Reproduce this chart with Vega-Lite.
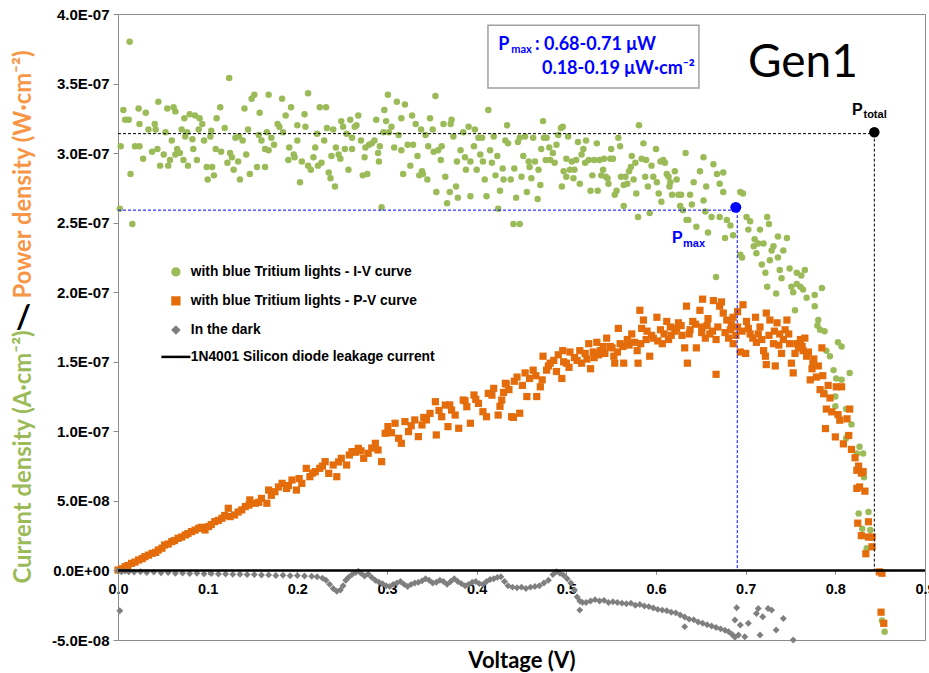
{
"$schema": "https://vega.github.io/schema/vega-lite/v6.json",
"width": 807, "height": 626,
"autosize": {"type": "none"},
"padding": {"left": 118, "top": 14, "right": 4, "bottom": 33},
"background": "white",
"config": {"view": {"stroke": "#8C8C8C", "strokeWidth": 1}, "axis": {"grid": false}},
"datasets": {
"iv": [
{"v":0.013,"j":3.80e-7},{"v":0.002,"j":2.60e-7},{"v":0.016,"j":2.49e-7},{"v":0.006,"j":3.31e-7},{"v":0.008,"j":3.24e-7},{"v":0.012,"j":3.24e-7},{"v":0.003,"j":3.05e-7},{"v":0.014,"j":2.85e-7},{"v":0.019,"j":3.05e-7},{"v":0.024,"j":3.05e-7},{"v":0.023,"j":3.32e-7},{"v":0.024,"j":3.21e-7},{"v":0.031,"j":3.29e-7},{"v":0.028,"j":2.96e-7},{"v":0.034,"j":3.17e-7},{"v":0.038,"j":3.01e-7},{"v":0.041,"j":3.21e-7},{"v":0.042,"j":3.17e-7},{"v":0.045,"j":3.37e-7},{"v":0.044,"j":3.03e-7},{"v":0.047,"j":2.91e-7},{"v":0.051,"j":2.99e-7},{"v":0.053,"j":3.15e-7},{"v":0.055,"j":3.32e-7},{"v":0.056,"j":2.91e-7},{"v":0.058,"j":2.95e-7},{"v":0.060,"j":3.09e-7},{"v":0.062,"j":3.33e-7},{"v":0.064,"j":3.30e-7},{"v":0.066,"j":3.03e-7},{"v":0.064,"j":2.99e-7},{"v":0.069,"j":3.00e-7},{"v":0.071,"j":3.17e-7},{"v":0.073,"j":2.95e-7},{"v":0.074,"j":3.25e-7},{"v":0.077,"j":3.15e-7},{"v":0.075,"j":3.12e-7},{"v":0.078,"j":2.91e-7},{"v":0.080,"j":3.28e-7},{"v":0.083,"j":3.10e-7},{"v":0.084,"j":3.03e-7},{"v":0.088,"j":2.95e-7},{"v":0.090,"j":3.17e-7},{"v":0.086,"j":3.27e-7},{"v":0.091,"j":3.25e-7},{"v":0.094,"j":3.21e-7},{"v":0.096,"j":3.09e-7},{"v":0.099,"j":2.90e-7},{"v":0.100,"j":2.81e-7},{"v":0.103,"j":3.12e-7},{"v":0.104,"j":3.16e-7},{"v":0.105,"j":2.90e-7},{"v":0.107,"j":2.84e-7},{"v":0.110,"j":3.25e-7},{"v":0.109,"j":3.03e-7},{"v":0.114,"j":3.33e-7},{"v":0.115,"j":3.01e-7},{"v":0.119,"j":3.18e-7},{"v":0.122,"j":2.93e-7},{"v":0.124,"j":3.54e-7},{"v":0.125,"j":3.00e-7},{"v":0.127,"j":2.97e-7},{"v":0.129,"j":2.88e-7},{"v":0.131,"j":3.11e-7},{"v":0.134,"j":2.94e-7},{"v":0.135,"j":3.12e-7},{"v":0.136,"j":2.81e-7},{"v":0.139,"j":3.09e-7},{"v":0.141,"j":3.32e-7},{"v":0.143,"j":2.99e-7},{"v":0.145,"j":3.17e-7},{"v":0.147,"j":2.85e-7},{"v":0.149,"j":3.39e-7},{"v":0.152,"j":3.42e-7},{"v":0.155,"j":2.90e-7},{"v":0.157,"j":3.13e-7},{"v":0.158,"j":3.29e-7},{"v":0.160,"j":3.09e-7},{"v":0.164,"j":2.90e-7},{"v":0.166,"j":3.15e-7},{"v":0.164,"j":3.03e-7},{"v":0.168,"j":3.42e-7},{"v":0.168,"j":3.02e-7},{"v":0.171,"j":3.11e-7},{"v":0.174,"j":3.06e-7},{"v":0.178,"j":3.21e-7},{"v":0.180,"j":3.19e-7},{"v":0.183,"j":3.39e-7},{"v":0.184,"j":3.15e-7},{"v":0.187,"j":3.27e-7},{"v":0.190,"j":2.95e-7},{"v":0.191,"j":3.04e-7},{"v":0.193,"j":3.33e-7},{"v":0.196,"j":2.99e-7},{"v":0.197,"j":2.97e-7},{"v":0.200,"j":3.20e-7},{"v":0.200,"j":3.09e-7},{"v":0.203,"j":2.79e-7},{"v":0.205,"j":2.94e-7},{"v":0.208,"j":3.28e-7},{"v":0.209,"j":3.19e-7},{"v":0.212,"j":3.43e-7},{"v":0.212,"j":2.91e-7},{"v":0.215,"j":2.88e-7},{"v":0.218,"j":2.97e-7},{"v":0.220,"j":3.04e-7},{"v":0.222,"j":3.14e-7},{"v":0.223,"j":2.91e-7},{"v":0.225,"j":3.33e-7},{"v":0.227,"j":2.93e-7},{"v":0.232,"j":3.33e-7},{"v":0.230,"j":3.09e-7},{"v":0.233,"j":3.18e-7},{"v":0.235,"j":2.86e-7},{"v":0.237,"j":2.82e-7},{"v":0.238,"j":2.98e-7},{"v":0.240,"j":3.17e-7},{"v":0.242,"j":2.76e-7},{"v":0.243,"j":3.04e-7},{"v":0.246,"j":2.99e-7},{"v":0.248,"j":2.96e-7},{"v":0.249,"j":3.23e-7},{"v":0.251,"j":3.19e-7},{"v":0.253,"j":3.03e-7},{"v":0.255,"j":3.14e-7},{"v":0.257,"j":2.88e-7},{"v":0.259,"j":3.24e-7},{"v":0.261,"j":3.11e-7},{"v":0.261,"j":3.03e-7},{"v":0.264,"j":3.19e-7},{"v":0.266,"j":3.20e-7},{"v":0.268,"j":3.27e-7},{"v":0.271,"j":3.09e-7},{"v":0.273,"j":2.84e-7},{"v":0.275,"j":2.97e-7},{"v":0.276,"j":3.04e-7},{"v":0.278,"j":2.85e-7},{"v":0.280,"j":3.06e-7},{"v":0.283,"j":3.07e-7},{"v":0.286,"j":3.09e-7},{"v":0.288,"j":3.24e-7},{"v":0.290,"j":3.00e-7},{"v":0.291,"j":2.94e-7},{"v":0.292,"j":3.05e-7},{"v":0.294,"j":2.61e-7},{"v":0.296,"j":3.15e-7},{"v":0.297,"j":3.31e-7},{"v":0.299,"j":3.23e-7},{"v":0.301,"j":3.42e-7},{"v":0.302,"j":3.15e-7},{"v":0.305,"j":3.19e-7},{"v":0.308,"j":3.04e-7},{"v":0.311,"j":3.37e-7},{"v":0.313,"j":3.13e-7},{"v":0.316,"j":3.02e-7},{"v":0.316,"j":3.25e-7},{"v":0.318,"j":2.85e-7},{"v":0.320,"j":3.35e-7},{"v":0.323,"j":3.06e-7},{"v":0.326,"j":2.91e-7},{"v":0.328,"j":3.27e-7},{"v":0.329,"j":3.06e-7},{"v":0.332,"j":3.21e-7},{"v":0.334,"j":2.98e-7},{"v":0.336,"j":2.84e-7},{"v":0.338,"j":3.17e-7},{"v":0.339,"j":2.87e-7},
{"v":0.343,"j":3.13e-7},{"v":0.340,"j":2.85e-7},{"v":0.345,"j":2.81e-7},{"v":0.348,"j":3.25e-7},{"v":0.351,"j":3.17e-7},{"v":0.346,"j":3.05e-7},{"v":0.354,"j":3.41e-7},{"v":0.352,"j":3.01e-7},{"v":0.355,"j":2.72e-7},{"v":0.357,"j":3.02e-7},{"v":0.360,"j":2.95e-7},{"v":0.361,"j":3.05e-7},{"v":0.363,"j":3.21e-7},{"v":0.365,"j":2.83e-7},{"v":0.367,"j":2.64e-7},{"v":0.370,"j":2.72e-7},{"v":0.371,"j":3.21e-7},{"v":0.372,"j":3.24e-7},{"v":0.374,"j":3.12e-7},{"v":0.377,"j":2.76e-7},{"v":0.378,"j":2.94e-7},{"v":0.379,"j":2.68e-7},{"v":0.382,"j":3.02e-7},{"v":0.385,"j":3.15e-7},{"v":0.387,"j":2.97e-7},{"v":0.388,"j":2.88e-7},{"v":0.391,"j":3.19e-7},{"v":0.393,"j":2.69e-7},{"v":0.393,"j":2.94e-7},{"v":0.397,"j":3.05e-7},{"v":0.398,"j":3.17e-7},{"v":0.400,"j":2.88e-7},{"v":0.402,"j":3.11e-7},{"v":0.404,"j":2.99e-7},{"v":0.406,"j":3.11e-7},{"v":0.407,"j":2.94e-7},{"v":0.409,"j":2.81e-7},{"v":0.411,"j":2.69e-7},{"v":0.413,"j":3.31e-7},{"v":0.415,"j":3.02e-7},{"v":0.417,"j":2.93e-7},{"v":0.419,"j":3.12e-7},{"v":0.421,"j":2.84e-7},{"v":0.423,"j":2.98e-7},{"v":0.424,"j":2.60e-7},{"v":0.426,"j":2.73e-7},{"v":0.429,"j":2.89e-7},{"v":0.430,"j":2.81e-7},{"v":0.432,"j":3.09e-7},{"v":0.434,"j":3.20e-7},{"v":0.435,"j":3.07e-7},{"v":0.438,"j":2.81e-7},{"v":0.441,"j":2.49e-7},{"v":0.442,"j":2.89e-7},{"v":0.444,"j":2.68e-7},{"v":0.446,"j":3.08e-7},{"v":0.448,"j":2.49e-7},{"v":0.448,"j":3.11e-7},{"v":0.450,"j":2.83e-7},{"v":0.452,"j":2.98e-7},{"v":0.454,"j":3.12e-7},{"v":0.456,"j":2.72e-7},{"v":0.458,"j":2.94e-7},{"v":0.459,"j":2.90e-7},{"v":0.461,"j":2.82e-7},{"v":0.463,"j":3.11e-7},{"v":0.465,"j":2.94e-7},{"v":0.468,"j":2.67e-7},{"v":0.469,"j":2.88e-7},{"v":0.471,"j":2.77e-7},{"v":0.472,"j":3.03e-7},{"v":0.474,"j":3.23e-7},{"v":0.475,"j":3.11e-7},{"v":0.477,"j":2.95e-7},{"v":0.478,"j":3.11e-7},{"v":0.481,"j":3.04e-7},{"v":0.482,"j":2.95e-7},{"v":0.485,"j":3.00e-7},{"v":0.487,"j":2.93e-7},{"v":0.489,"j":3.06e-7},{"v":0.491,"j":3.13e-7},{"v":0.494,"j":3.18e-7},{"v":0.496,"j":3.19e-7},{"v":0.495,"j":2.76e-7},{"v":0.497,"j":2.87e-7},{"v":0.500,"j":2.83e-7},{"v":0.500,"j":2.96e-7},{"v":0.502,"j":3.12e-7},{"v":0.504,"j":2.88e-7},{"v":0.506,"j":2.94e-7},{"v":0.508,"j":2.82e-7},{"v":0.509,"j":2.88e-7},{"v":0.511,"j":2.95e-7},{"v":0.513,"j":3.08e-7},{"v":0.515,"j":2.78e-7},{"v":0.517,"j":2.99e-7},{"v":0.519,"j":3.03e-7},{"v":0.521,"j":2.93e-7},{"v":0.522,"j":3.09e-7},{"v":0.525,"j":2.95e-7},{"v":0.527,"j":2.73e-7},{"v":0.529,"j":2.84e-7},{"v":0.531,"j":2.95e-7},{"v":0.534,"j":3.07e-7},{"v":0.535,"j":2.73e-7},{"v":0.537,"j":2.95e-7},{"v":0.539,"j":2.84e-7},{"v":0.541,"j":2.88e-7},{"v":0.542,"j":2.96e-7},{"v":0.544,"j":2.83e-7},{"v":0.546,"j":2.82e-7},{"v":0.547,"j":2.78e-7},{"v":0.549,"j":2.96e-7},{"v":0.550,"j":3.03e-7},{"v":0.552,"j":2.96e-7},{"v":0.554,"j":2.70e-7},{"v":0.556,"j":2.73e-7},{"v":0.558,"j":3.11e-7},{"v":0.560,"j":3.05e-7},{"v":0.561,"j":2.83e-7},{"v":0.564,"j":2.77e-7},{"v":0.564,"j":2.62e-7},{"v":0.566,"j":2.83e-7},{"v":0.568,"j":2.78e-7},{"v":0.570,"j":2.87e-7},{"v":0.572,"j":2.90e-7},{"v":0.573,"j":2.98e-7},{"v":0.575,"j":2.81e-7},{"v":0.577,"j":2.93e-7},{"v":0.578,"j":2.71e-7},{"v":0.580,"j":2.54e-7},{"v":0.581,"j":3.20e-7},{"v":0.584,"j":2.96e-7},{"v":0.586,"j":3.07e-7},{"v":0.588,"j":2.83e-7},{"v":0.589,"j":2.95e-7},{"v":0.591,"j":2.76e-7},{"v":0.593,"j":2.57e-7},{"v":0.595,"j":2.91e-7},{"v":0.597,"j":2.83e-7},{"v":0.600,"j":3.03e-7},{"v":0.601,"j":2.79e-7},{"v":0.603,"j":2.71e-7},{"v":0.605,"j":2.94e-7},{"v":0.606,"j":2.65e-7},{"v":0.608,"j":2.95e-7},{"v":0.610,"j":2.93e-7},{"v":0.612,"j":2.85e-7},{"v":0.614,"j":2.83e-7},{"v":0.615,"j":2.76e-7},{"v":0.616,"j":2.79e-7},{"v":0.618,"j":2.70e-7},{"v":0.621,"j":2.87e-7},{"v":0.623,"j":2.81e-7},{"v":0.625,"j":2.70e-7},{"v":0.627,"j":2.62e-7},{"v":0.628,"j":2.70e-7},{"v":0.630,"j":2.59e-7},{"v":0.633,"j":3.00e-7},{"v":0.634,"j":2.52e-7},{"v":0.636,"j":2.52e-7},{"v":0.638,"j":2.70e-7},
{"v":0.653,"j":2.97e-7},{"v":0.664,"j":2.92e-7},{"v":0.649,"j":2.87e-7},{"v":0.668,"j":2.85e-7},{"v":0.675,"j":2.86e-7},{"v":0.671,"j":2.78e-7},{"v":0.656,"j":2.76e-7},{"v":0.642,"j":2.79e-7},{"v":0.675,"j":2.72e-7},{"v":0.694,"j":2.72e-7},{"v":0.697,"j":2.71e-7},{"v":0.653,"j":2.66e-7},{"v":0.655,"j":2.58e-7},{"v":0.640,"j":2.63e-7},{"v":0.645,"j":2.47e-7},{"v":0.662,"j":2.54e-7},{"v":0.671,"j":2.54e-7},{"v":0.679,"j":2.52e-7},{"v":0.683,"j":2.48e-7},{"v":0.658,"j":2.43e-7},{"v":0.677,"j":2.39e-7},{"v":0.686,"j":2.41e-7},{"v":0.701,"j":2.54e-7},{"v":0.705,"j":2.51e-7},{"v":0.703,"j":2.45e-7},{"v":0.710,"j":2.38e-7},{"v":0.716,"j":2.45e-7},{"v":0.724,"j":2.54e-7},{"v":0.726,"j":2.49e-7},{"v":0.709,"j":2.33e-7},{"v":0.714,"j":2.35e-7},{"v":0.712,"j":2.28e-7},{"v":0.720,"j":2.35e-7},{"v":0.736,"j":2.40e-7},{"v":0.746,"j":2.39e-7},{"v":0.731,"j":2.33e-7},{"v":0.729,"j":2.30e-7},{"v":0.742,"j":2.30e-7},{"v":0.736,"j":2.25e-7},{"v":0.727,"j":2.23e-7},{"v":0.718,"j":2.20e-7},{"v":0.696,"j":2.25e-7},{"v":0.694,"j":2.27e-7},{"v":0.667,"j":2.11e-7},{"v":0.722,"j":2.14e-7},{"v":0.738,"j":2.16e-7},{"v":0.749,"j":2.17e-7},{"v":0.757,"j":2.14e-7},{"v":0.766,"j":2.16e-7},{"v":0.762,"j":2.12e-7},{"v":0.740,"j":2.10e-7},{"v":0.724,"j":2.04e-7},{"v":0.734,"j":1.99e-7},{"v":0.751,"j":2.04e-7},{"v":0.757,"j":2.06e-7},{"v":0.761,"j":2.04e-7},{"v":0.753,"j":2.00e-7},{"v":0.764,"j":2.02e-7},{"v":0.768,"j":1.96e-7},{"v":0.777,"j":1.98e-7},{"v":0.785,"j":2.03e-7},{"v":0.777,"j":1.90e-7},{"v":0.755,"j":1.87e-7},{"v":0.781,"j":1.80e-7},{"v":0.780,"j":1.76e-7},{"v":0.783,"j":1.73e-7},{"v":0.788,"j":1.72e-7},{"v":0.803,"j":1.64e-7},{"v":0.807,"j":1.61e-7},{"v":0.790,"j":1.58e-7},{"v":0.794,"j":1.54e-7},{"v":0.798,"j":1.44e-7},{"v":0.801,"j":1.38e-7},{"v":0.807,"j":1.37e-7},{"v":0.816,"j":1.42e-7},{"v":0.800,"j":1.25e-7},{"v":0.788,"j":1.28e-7},{"v":0.800,"j":1.18e-7},{"v":0.812,"j":1.16e-7},{"v":0.818,"j":1.05e-7},{"v":0.812,"j":0.95e-7},{"v":0.814,"j":0.97e-7},{"v":0.827,"j":0.89e-7},{"v":0.831,"j":0.84e-7},{"v":0.824,"j":0.84e-7},{"v":0.832,"j":0.67e-7},{"v":0.826,"j":0.41e-7},{"v":0.837,"j":0.42e-7},{"v":0.830,"j":0.30e-7},{"v":0.839,"j":0.29e-7},{"v":0.835,"j":0.16e-7},{"v":0.852,"j":-0.36e-7},{"v":0.855,"j":-0.44e-7}
],
"pv": [
{"v":0.000,"j":0.003e-7},{"v":0.008,"j":0.027e-7},{"v":0.015,"j":0.051e-7},{"v":0.023,"j":0.075e-7},{"v":0.030,"j":0.099e-7},{"v":0.038,"j":0.123e-7},{"v":0.045,"j":0.147e-7},{"v":0.052,"j":0.183e-7},{"v":0.060,"j":0.207e-7},{"v":0.067,"j":0.231e-7},{"v":0.075,"j":0.255e-7},{"v":0.082,"j":0.279e-7},{"v":0.090,"j":0.303e-7},{"v":0.097,"j":0.291e-7},{"v":0.101,"j":0.315e-7},{"v":0.108,"j":0.351e-7},{"v":0.116,"j":0.375e-7},{"v":0.123,"j":0.447e-7},{"v":0.125,"j":0.387e-7},{"v":0.130,"j":0.399e-7},{"v":0.138,"j":0.435e-7},{"v":0.142,"j":0.459e-7},{"v":0.147,"j":0.507e-7},{"v":0.153,"j":0.483e-7},{"v":0.160,"j":0.518e-7},{"v":0.166,"j":0.483e-7},{"v":0.168,"j":0.578e-7},{"v":0.175,"j":0.566e-7},{"v":0.183,"j":0.626e-7},{"v":0.188,"j":0.590e-7},{"v":0.194,"j":0.650e-7},{"v":0.199,"j":0.578e-7},{"v":0.205,"j":0.626e-7},{"v":0.210,"j":0.734e-7},{"v":0.214,"j":0.674e-7},{"v":0.220,"j":0.710e-7},{"v":0.225,"j":0.734e-7},{"v":0.231,"j":0.782e-7},{"v":0.235,"j":0.698e-7},{"v":0.240,"j":0.758e-7},{"v":0.244,"j":0.674e-7},{"v":0.249,"j":0.806e-7},{"v":0.255,"j":0.758e-7},{"v":0.261,"j":0.854e-7},{"v":0.268,"j":0.878e-7},{"v":0.274,"j":0.806e-7},{"v":0.279,"j":0.842e-7},{"v":0.287,"j":0.914e-7},{"v":0.290,"j":0.866e-7},{"v":0.294,"j":0.782e-7},{"v":0.298,"j":0.986e-7},{"v":0.301,"j":1.034e-7},{"v":0.309,"j":1.058e-7},{"v":0.313,"j":0.950e-7},{"v":0.316,"j":0.914e-7},{"v":0.320,"j":1.070e-7},{"v":0.324,"j":0.998e-7},{"v":0.331,"j":1.082e-7},{"v":0.335,"j":0.962e-7},{"v":0.339,"j":1.046e-7},{"v":0.344,"j":1.082e-7},{"v":0.348,"j":1.129e-7},{"v":0.354,"j":1.213e-7},{"v":0.355,"j":0.974e-7},{"v":0.361,"j":1.105e-7},{"v":0.365,"j":1.189e-7},{"v":0.368,"j":1.034e-7},{"v":0.372,"j":1.153e-7},{"v":0.376,"j":1.117e-7},{"v":0.380,"j":1.022e-7},{"v":0.385,"j":1.225e-7},{"v":0.389,"j":1.177e-7},{"v":0.393,"j":1.058e-7},{"v":0.397,"j":1.261e-7},{"v":0.402,"j":1.201e-7},{"v":0.407,"j":1.141e-7},{"v":0.411,"j":1.105e-7},{"v":0.413,"j":1.273e-7},{"v":0.419,"j":1.309e-7},{"v":0.424,"j":1.117e-7},{"v":0.428,"j":1.225e-7},{"v":0.432,"j":1.345e-7},{"v":0.439,"j":1.105e-7},
{"v":0.004,"j":0.012e-7},{"v":0.011,"j":0.035e-7},{"v":0.019,"j":0.06e-7},{"v":0.027,"j":0.085e-7},{"v":0.034,"j":0.11e-7},{"v":0.042,"j":0.13e-7},{"v":0.049,"j":0.16e-7},{"v":0.056,"j":0.19e-7},{"v":0.063,"j":0.215e-7},{"v":0.071,"j":0.24e-7},{"v":0.078,"j":0.265e-7},{"v":0.086,"j":0.29e-7},{"v":0.093,"j":0.31e-7},{"v":0.104,"j":0.33e-7},{"v":0.112,"j":0.36e-7},{"v":0.119,"j":0.395e-7},{"v":0.134,"j":0.42e-7},{"v":0.146,"j":0.47e-7},{"v":0.157,"j":0.49e-7},{"v":0.171,"j":0.54e-7},{"v":0.179,"j":0.60e-7},{"v":0.190,"j":0.61e-7},{"v":0.202,"j":0.66e-7},{"v":0.217,"j":0.70e-7},{"v":0.228,"j":0.75e-7},{"v":0.246,"j":0.78e-7},{"v":0.258,"j":0.83e-7},{"v":0.265,"j":0.85e-7},{"v":0.271,"j":0.86e-7},{"v":0.283,"j":0.88e-7},{"v":0.305,"j":0.99e-7},{"v":0.327,"j":1.04e-7},{"v":0.341,"j":1.10e-7},{"v":0.358,"j":1.15e-7},{"v":0.370,"j":1.19e-7},{"v":0.387,"j":1.22e-7},{"v":0.399,"j":1.23e-7},{"v":0.417,"j":1.26e-7},{"v":0.430,"j":1.28e-7},
{"v":0.436,"j":1.30e-7},{"v":0.442,"j":1.36e-7},{"v":0.451,"j":1.33e-7},{"v":0.459,"j":1.38e-7},{"v":0.466,"j":1.40e-7},{"v":0.473,"j":1.37e-7},{"v":0.480,"j":1.47e-7},{"v":0.489,"j":1.43e-7},{"v":0.497,"j":1.50e-7},{"v":0.503,"j":1.46e-7},{"v":0.509,"j":1.53e-7},{"v":0.517,"j":1.49e-7},{"v":0.523,"j":1.52e-7},{"v":0.531,"j":1.53e-7},{"v":0.536,"j":1.55e-7},{"v":0.543,"j":1.56e-7},{"v":0.551,"j":1.60e-7},{"v":0.557,"j":1.57e-7},{"v":0.563,"j":1.61e-7},{"v":0.570,"j":1.62e-7},{"v":0.576,"j":1.64e-7},{"v":0.583,"j":1.63e-7},{"v":0.589,"j":1.66e-7},{"v":0.595,"j":1.69e-7},{"v":0.602,"j":1.65e-7},{"v":0.609,"j":1.70e-7},{"v":0.614,"j":1.66e-7},{"v":0.623,"j":1.74e-7},{"v":0.628,"j":1.76e-7},{"v":0.637,"j":1.70e-7},{"v":0.644,"j":1.77e-7},{"v":0.651,"j":1.71e-7},{"v":0.657,"j":1.76e-7},{"v":0.663,"j":1.72e-7},{"v":0.669,"j":1.75e-7},{"v":0.677,"j":1.71e-7},{"v":0.684,"j":1.77e-7},{"v":0.689,"j":1.69e-7},{"v":0.696,"j":1.72e-7},{"v":0.703,"j":1.74e-7},{"v":0.708,"j":1.67e-7},{"v":0.714,"j":1.70e-7},{"v":0.718,"j":1.66e-7},{"v":0.726,"j":1.69e-7},{"v":0.732,"j":1.72e-7},{"v":0.737,"j":1.62e-7},{"v":0.742,"j":1.66e-7},{"v":0.748,"j":1.70e-7},{"v":0.757,"j":1.63e-7},{"v":0.763,"j":1.61e-7},{"v":0.770,"j":1.57e-7},{"v":0.776,"j":1.52e-7},{"v":0.781,"j":1.47e-7},{"v":0.786,"j":1.40e-7},{"v":0.792,"j":1.33e-7},
{"v":0.426,"j":1.18e-7},{"v":0.433,"j":1.34e-7},{"v":0.441,"j":1.10e-7},{"v":0.448,"j":1.13e-7},{"v":0.445,"j":1.39e-7},{"v":0.454,"j":1.42e-7},{"v":0.456,"j":1.25e-7},{"v":0.463,"j":1.44e-7},{"v":0.467,"j":1.25e-7},{"v":0.471,"j":1.32e-7},{"v":0.474,"j":1.54e-7},{"v":0.478,"j":1.44e-7},{"v":0.482,"j":1.49e-7},{"v":0.486,"j":1.51e-7},{"v":0.491,"j":1.55e-7},{"v":0.495,"j":1.38e-7},{"v":0.496,"j":1.58e-7},{"v":0.500,"j":1.49e-7},{"v":0.504,"j":1.57e-7},{"v":0.512,"j":1.51e-7},{"v":0.515,"j":1.58e-7},{"v":0.521,"j":1.56e-7},{"v":0.525,"j":1.63e-7},{"v":0.527,"j":1.45e-7},{"v":0.530,"j":1.57e-7},{"v":0.534,"j":1.64e-7},{"v":0.538,"j":1.58e-7},{"v":0.541,"j":1.61e-7},{"v":0.545,"j":1.67e-7},{"v":0.549,"j":1.61e-7},{"v":0.553,"j":1.54e-7},{"v":0.554,"j":1.49e-7},{"v":0.558,"j":1.74e-7},{"v":0.560,"j":1.63e-7},{"v":0.564,"j":1.49e-7},{"v":0.568,"j":1.66e-7},{"v":0.573,"j":1.70e-7},{"v":0.579,"j":1.58e-7},{"v":0.580,"j":1.49e-7},{"v":0.582,"j":1.87e-7},{"v":0.584,"j":1.74e-7},{"v":0.586,"j":1.80e-7},{"v":0.590,"j":1.72e-7},{"v":0.593,"j":1.54e-7},{"v":0.597,"j":1.67e-7},{"v":0.601,"j":1.82e-7},{"v":0.605,"j":1.73e-7},{"v":0.607,"j":1.63e-7},{"v":0.612,"j":1.79e-7},{"v":0.616,"j":1.75e-7},{"v":0.617,"j":1.69e-7},{"v":0.621,"j":1.72e-7},{"v":0.625,"j":1.78e-7},{"v":0.629,"j":1.69e-7},{"v":0.632,"j":1.60e-7},{"v":0.634,"j":1.90e-7},{"v":0.635,"j":1.49e-7},{"v":0.638,"j":1.73e-7},{"v":0.641,"j":1.79e-7},{"v":0.645,"j":1.60e-7},{"v":0.649,"j":1.87e-7},{"v":0.651,"j":1.75e-7},{"v":0.652,"j":1.95e-7},{"v":0.655,"j":1.67e-7},{"v":0.658,"j":1.81e-7},{"v":0.660,"j":1.70e-7},{"v":0.664,"j":1.94e-7},{"v":0.667,"j":1.41e-7},{"v":0.667,"j":1.66e-7},{"v":0.671,"j":1.90e-7},{"v":0.673,"j":1.93e-7},{"v":0.675,"j":1.85e-7},{"v":0.679,"j":1.80e-7},{"v":0.681,"j":1.67e-7},{"v":0.683,"j":1.73e-7},{"v":0.686,"j":1.82e-7},{"v":0.686,"j":1.63e-7},{"v":0.691,"j":1.86e-7},{"v":0.691,"j":1.75e-7},{"v":0.694,"j":1.57e-7},{"v":0.697,"j":1.91e-7},{"v":0.700,"j":1.56e-7},{"v":0.701,"j":1.79e-7},{"v":0.705,"j":1.70e-7},{"v":0.711,"j":1.82e-7},{"v":0.712,"j":1.64e-7},{"v":0.716,"j":1.75e-7},{"v":0.720,"j":1.58e-7},{"v":0.722,"j":1.54e-7},{"v":0.723,"j":1.48e-7},{"v":0.723,"j":1.85e-7},{"v":0.727,"j":1.80e-7},{"v":0.731,"j":1.63e-7},{"v":0.733,"j":1.47e-7},{"v":0.735,"j":1.78e-7},{"v":0.738,"j":1.70e-7},{"v":0.740,"j":1.56e-7},{"v":0.744,"j":1.73e-7},{"v":0.746,"j":1.80e-7},{"v":0.749,"j":1.63e-7},{"v":0.751,"j":1.49e-7},{"v":0.753,"j":1.42e-7},{"v":0.755,"j":1.56e-7},{"v":0.759,"j":1.60e-7},{"v":0.761,"j":1.66e-7},{"v":0.764,"j":1.58e-7},{"v":0.766,"j":1.67e-7},{"v":0.768,"j":1.54e-7},{"v":0.772,"j":1.37e-7},{"v":0.774,"j":1.45e-7},{"v":0.775,"j":1.49e-7},{"v":0.779,"j":1.39e-7},{"v":0.783,"j":1.30e-7},{"v":0.785,"j":1.60e-7},{"v":0.787,"j":1.27e-7},{"v":0.789,"j":1.02e-7},{"v":0.790,"j":1.16e-7},{"v":0.794,"j":1.24e-7},{"v":0.796,"j":1.14e-7},{"v":0.800,"j":0.96e-7},{"v":0.801,"j":1.32e-7},{"v":0.803,"j":1.12e-7},{"v":0.805,"j":1.08e-7},{"v":0.807,"j":1.32e-7},{"v":0.809,"j":0.91e-7},{"v":0.813,"j":1.09e-7},{"v":0.815,"j":0.97e-7},{"v":0.816,"j":1.16e-7},{"v":0.818,"j":0.87e-7},{"v":0.822,"j":0.81e-7},{"v":0.824,"j":0.72e-7},{"v":0.826,"j":0.75e-7},{"v":0.829,"j":0.70e-7},{"v":0.831,"j":0.71e-7},{"v":0.824,"j":0.59e-7},{"v":0.827,"j":0.60e-7},{"v":0.833,"j":0.57e-7},{"v":0.825,"j":0.34e-7},{"v":0.837,"j":0.35e-7},{"v":0.829,"j":0.25e-7},{"v":0.837,"j":0.24e-7},{"v":0.841,"j":0.24e-7},{"v":0.841,"j":0.17e-7},{"v":0.834,"j":0.12e-7},{"v":0.849,"j":-0.01e-7},{"v":0.852,"j":-0.02e-7},{"v":0.851,"j":-0.30e-7},{"v":0.854,"j":-0.38e-7}
],
"dark": [
{"v":0.000,"j":0.00e-7},{"v":0.004,"j":-0.01e-7},{"v":0.008,"j":-0.005e-7},{"v":0.012,"j":-0.01e-7},{"v":0.018,"j":-0.012e-7},{"v":0.025,"j":-0.01e-7},{"v":0.032,"j":-0.015e-7},{"v":0.040,"j":-0.012e-7},{"v":0.048,"j":-0.016e-7},{"v":0.056,"j":-0.015e-7},{"v":0.064,"j":-0.02e-7},{"v":0.072,"j":-0.018e-7},{"v":0.080,"j":-0.022e-7},{"v":0.088,"j":-0.02e-7},{"v":0.096,"j":-0.024e-7},{"v":0.104,"j":-0.022e-7},{"v":0.112,"j":-0.026e-7},{"v":0.120,"j":-0.025e-7},{"v":0.128,"j":-0.028e-7},{"v":0.136,"j":-0.027e-7},{"v":0.144,"j":-0.03e-7},{"v":0.152,"j":-0.03e-7},{"v":0.160,"j":-0.033e-7},{"v":0.168,"j":-0.032e-7},{"v":0.176,"j":-0.036e-7},{"v":0.184,"j":-0.035e-7},{"v":0.192,"j":-0.038e-7},{"v":0.200,"j":-0.037e-7},{"v":0.208,"j":-0.04e-7},{"v":0.216,"j":-0.042e-7},{"v":0.222,"j":-0.045e-7},{"v":0.228,"j":-0.055e-7},{"v":0.232,"j":-0.07e-7},{"v":0.236,"j":-0.10e-7},{"v":0.240,"j":-0.13e-7},{"v":0.244,"j":-0.15e-7},{"v":0.248,"j":-0.14e-7},{"v":0.251,"j":-0.11e-7},{"v":0.254,"j":-0.07e-7},{"v":0.257,"j":-0.05e-7},{"v":0.261,"j":-0.03e-7},{"v":0.265,"j":-0.015e-7},{"v":0.268,"j":-0.005e-7},{"v":0.271,"j":-0.02e-7},{"v":0.275,"j":-0.04e-7},{"v":0.279,"j":-0.025e-7},{"v":0.283,"j":-0.05e-7},{"v":0.287,"j":-0.07e-7},{"v":0.291,"j":-0.085e-7},{"v":0.295,"j":-0.095e-7},{"v":0.299,"j":-0.11e-7},{"v":0.303,"j":-0.115e-7},{"v":0.307,"j":-0.10e-7},{"v":0.311,"j":-0.09e-7},{"v":0.315,"j":-0.08e-7},{"v":0.319,"j":-0.10e-7},{"v":0.323,"j":-0.115e-7},{"v":0.327,"j":-0.10e-7},{"v":0.331,"j":-0.09e-7},{"v":0.335,"j":-0.085e-7},{"v":0.339,"j":-0.075e-7},{"v":0.343,"j":-0.06e-7},{"v":0.347,"j":-0.07e-7},{"v":0.351,"j":-0.09e-7},{"v":0.355,"j":-0.085e-7},{"v":0.359,"j":-0.07e-7},{"v":0.363,"j":-0.08e-7},{"v":0.367,"j":-0.10e-7},{"v":0.371,"j":-0.08e-7},{"v":0.375,"j":-0.06e-7},{"v":0.379,"j":-0.08e-7},{"v":0.383,"j":-0.095e-7},{"v":0.387,"j":-0.11e-7},{"v":0.391,"j":-0.10e-7},{"v":0.395,"j":-0.085e-7},{"v":0.399,"j":-0.08e-7},{"v":0.403,"j":-0.095e-7},{"v":0.407,"j":-0.10e-7},{"v":0.411,"j":-0.08e-7},{"v":0.415,"j":-0.065e-7},{"v":0.419,"j":-0.06e-7},{"v":0.423,"j":-0.05e-7},{"v":0.427,"j":-0.045e-7},{"v":0.431,"j":-0.08e-7},{"v":0.435,"j":-0.11e-7},{"v":0.440,"j":-0.12e-7},{"v":0.445,"j":-0.125e-7},{"v":0.450,"j":-0.12e-7},{"v":0.455,"j":-0.13e-7},{"v":0.460,"j":-0.12e-7},{"v":0.465,"j":-0.115e-7},{"v":0.470,"j":-0.11e-7},{"v":0.475,"j":-0.09e-7},{"v":0.480,"j":-0.07e-7},{"v":0.485,"j":-0.03e-7},{"v":0.489,"j":-0.01e-7},{"v":0.493,"j":-0.02e-7},{"v":0.497,"j":-0.035e-7},{"v":0.501,"j":-0.06e-7},{"v":0.505,"j":-0.09e-7},{"v":0.509,"j":-0.14e-7},{"v":0.512,"j":-0.19e-7},{"v":0.515,"j":-0.22e-7},{"v":0.518,"j":-0.23e-7},{"v":0.522,"j":-0.23e-7},{"v":0.527,"j":-0.22e-7},{"v":0.532,"j":-0.21e-7},{"v":0.537,"j":-0.22e-7},{"v":0.542,"j":-0.215e-7},{"v":0.547,"j":-0.23e-7},{"v":0.552,"j":-0.225e-7},{"v":0.557,"j":-0.23e-7},{"v":0.562,"j":-0.235e-7},{"v":0.567,"j":-0.24e-7},{"v":0.572,"j":-0.235e-7},{"v":0.577,"j":-0.25e-7},{"v":0.582,"j":-0.245e-7},{"v":0.587,"j":-0.255e-7},{"v":0.592,"j":-0.26e-7},{"v":0.597,"j":-0.27e-7},{"v":0.602,"j":-0.28e-7},{"v":0.607,"j":-0.285e-7},{"v":0.612,"j":-0.29e-7},{"v":0.617,"j":-0.30e-7},{"v":0.622,"j":-0.305e-7},{"v":0.627,"j":-0.32e-7},{"v":0.632,"j":-0.335e-7},{"v":0.637,"j":-0.35e-7},{"v":0.642,"j":-0.355e-7},{"v":0.647,"j":-0.37e-7},{"v":0.652,"j":-0.38e-7},{"v":0.657,"j":-0.39e-7},{"v":0.662,"j":-0.40e-7},{"v":0.667,"j":-0.41e-7},{"v":0.672,"j":-0.42e-7},{"v":0.677,"j":-0.43e-7},{"v":0.681,"j":-0.44e-7},{"v":0.685,"j":-0.46e-7},{"v":0.688,"j":-0.48e-7},{"v":0.515,"j":-0.285e-7},{"v":0.632,"j":-0.404e-7},{"v":0.002,"j":-0.29e-7},{"v":0.690,"j":-0.268e-7},{"v":0.688,"j":-0.356e-7},{"v":0.692,"j":-0.464e-7},{"v":0.694,"j":-0.392e-7},{"v":0.699,"j":-0.476e-7},{"v":0.703,"j":-0.380e-7},{"v":0.714,"j":-0.273e-7},{"v":0.712,"j":-0.309e-7},{"v":0.719,"j":-0.333e-7},{"v":0.716,"j":-0.464e-7},{"v":0.725,"j":-0.273e-7},{"v":0.729,"j":-0.285e-7},{"v":0.734,"j":-0.428e-7},{"v":0.742,"j":-0.345e-7},{"v":0.753,"j":-0.500e-7}
],
"leak": [{"v":0,"j":0},{"v":0.9,"j":0}],
"dashK": [{"x1":0,"x2":0.8435,"y1":3.14e-7,"y2":3.14e-7},{"x1":0.8435,"x2":0.8435,"y1":3.14e-7,"y2":0}],
"dashB": [{"x1":0,"x2":0.6906,"y1":2.59e-7,"y2":2.59e-7},{"x1":0.6906,"x2":0.6906,"y1":2.59e-7,"y2":0}],
"dotB": [{"v":0.689,"j":2.61e-7}],
"dotK": [{"v":0.8435,"j":3.15e-7}],
"box": [{"x1":0.4126,"x2":0.6479,"y1":3.92e-7,"y2":3.468e-7}],
"gen": [{"v":0.7026,"j":3.547e-7,"t":"Gen1"}],
"boxBig": [{"v":0.424,"j":3.741e-7,"t":"P"},{"v":0.4650,"j":3.741e-7,"t":": 0.68-0.71  μW"},{"v":0.4728,"j":3.568e-7,"t":"0.18-0.19 μW·cm⁻²"}],
"boxSmall": [{"v":0.4385,"j":3.719e-7,"t":"max"}],
"blueBig": [{"v":0.6178,"j":2.351e-7,"t":"P"}],
"blueSmall": [{"v":0.6301,"j":2.327e-7,"t":"max"}],
"blackBig": [{"v":0.8186,"j":3.273e-7,"t":"P"}],
"blackSmall": [{"v":0.8314,"j":3.254e-7,"t":"total"}]
},
"resolve": {"axis": {"x": "independent", "y": "independent"}},
"layer": [
{"data": {"name": "iv"}, "mark": {"type": "point", "filled": true, "opacity": 1, "size": 42},
 "encoding": {
  "x": {"field": "v", "type": "quantitative", "scale": {"domain": [0, 0.9], "nice": false, "zero": false},
   "axis": {"orient": "bottom", "values": [0,0.1,0.2,0.3,0.4,0.5,0.6,0.7,0.8,0.9], "format": ".1f", "labelFlush": false, "labelOverlap": false, "domain": false, "ticks": true, "tickSize": 4, "tickColor": "#8C8C8C", "labelPadding": 8, "offset": -69.6, "labelFont": "Liberation Sans", "labelFontWeight": "bold", "labelFontSize": 14.5, "labelColor": "#000000", "title": "Voltage (V)", "titleFont": "Lato", "titleFontSize": 22, "titleFontWeight": "bold", "titleColor": "#000000", "titleY": 90, "titleBaseline": "middle"}},
  "y": {"field": "j", "type": "quantitative", "scale": {"domain": [-5e-8, 4e-7], "nice": false, "zero": false},
   "axis": {"orient": "left", "values": [-5e-8,0,5e-8,1e-7,1.5e-7,2e-7,2.5e-7,3e-7,3.5e-7,4e-7],
    "labelExpr": "datum.value == 0 ? '0.0E+00' : (datum.value < 0 ? '-' : '') + format(abs(datum.value) / pow(10, floor(log(abs(datum.value)) / LN10 + 1e-9)), '.1f') + 'E-0' + (-floor(log(abs(datum.value)) / LN10 + 1e-9))",
    "labelFont": "Liberation Sans", "labelFontWeight": "bold", "labelFontSize": 15, "labelColor": "#000000", "labelPadding": 4,
    "tickSize": 5, "tickColor": "#8C8C8C", "domainColor": "#8C8C8C",
    "title": "Current density (A·cm⁻²)", "titleColor": "#9BBB59", "titleFont": "Lato", "titleFontSize": 23.8, "titleFontWeight": "bold", "titleAngle": 270, "titleX": -95, "titleY": 569, "titleAlign": "left", "titleBaseline": "middle"}},
  "color": {"datum": "with blue Tritium lights - I-V curve", "type": "nominal",
   "scale": {"domain": ["with blue Tritium lights - I-V curve","with blue Tritium lights - P-V curve","In the dark","1N4001 Silicon diode leakage current"], "range": ["#9BBB59","#E46C0A","#7F7F7F","#000000"]},
   "legend": {"orient": "none", "legendX": 51, "legendY": 251, "title": null, "direction": "vertical", "symbolSize": 841, "labelFont": "Liberation Sans", "labelFontWeight": "bold", "labelFontSize": 13.8, "labelColor": "#000000", "labelOffset": 8, "labelLimit": 500, "rowPadding": 11, "padding": 0, "symbolOpacity": 1,
    "encode": {"symbols": {"update": {"size": {"signal": "datum.value === '1N4001 Silicon diode leakage current' ? 841 : (datum.value === 'In the dark' ? 36 : 46)"}, "stroke": {"signal": "datum.value === '1N4001 Silicon diode leakage current' ? '#000000' : 'transparent'"}, "strokeWidth": {"value": 2.5}, "opacity": {"value": 1}}}}}},
  "shape": {"datum": "with blue Tritium lights - I-V curve", "type": "nominal",
   "scale": {"domain": ["with blue Tritium lights - I-V curve","with blue Tritium lights - P-V curve","In the dark","1N4001 Silicon diode leakage current"], "range": ["circle","square","diamond","stroke"]},
   "legend": {"orient": "none", "legendX": 51, "legendY": 251, "title": null, "direction": "vertical", "symbolSize": 841, "labelFont": "Liberation Sans", "labelFontWeight": "bold", "labelFontSize": 13.8, "labelColor": "#000000", "labelOffset": 8, "labelLimit": 500, "rowPadding": 11, "padding": 0, "symbolOpacity": 1,
    "encode": {"symbols": {"update": {"size": {"signal": "datum.value === '1N4001 Silicon diode leakage current' ? 841 : (datum.value === 'In the dark' ? 36 : 46)"}, "stroke": {"signal": "datum.value === '1N4001 Silicon diode leakage current' ? '#000000' : 'transparent'"}, "strokeWidth": {"value": 2.5}, "opacity": {"value": 1}}}}}}
 }},
{"data": {"name": "pv"}, "mark": {"type": "point", "filled": true, "opacity": 1, "size": 52},
 "encoding": {
  "x": {"field": "v", "type": "quantitative", "axis": null},
  "y": {"field": "j", "type": "quantitative", "axis": {"orient": "left", "labels": false, "ticks": false, "domain": false, "title": "Power density (W·cm⁻²)", "titleColor": "#F79646", "titleFont": "Lato", "titleFontSize": 23.8, "titleFontWeight": "bold", "titleAngle": 270, "titleX": -95, "titleY": 284, "titleAlign": "left", "titleBaseline": "middle"}},
  "color": {"datum": "with blue Tritium lights - P-V curve", "type": "nominal"},
  "shape": {"datum": "with blue Tritium lights - P-V curve", "type": "nominal"}
 }},
{"data": {"name": "dark"}, "mark": {"type": "point", "filled": true, "opacity": 1, "size": 48},
 "encoding": {
  "x": {"field": "v", "type": "quantitative", "axis": null},
  "y": {"field": "j", "type": "quantitative", "axis": {"orient": "left", "labels": false, "ticks": false, "domain": false, "title": "/", "titleColor": "#000000", "titleFont": "Lato", "titleFontSize": 32, "titleFontWeight": "bold", "titleAngle": 0, "titleX": -95, "titleY": 303, "titleAlign": "center", "titleBaseline": "middle"}},
  "color": {"datum": "In the dark", "type": "nominal"},
  "shape": {"datum": "In the dark", "type": "nominal"}
 }},
{"data": {"name": "leak"}, "mark": {"type": "line", "strokeWidth": 2.5},
 "encoding": {
  "x": {"field": "v", "type": "quantitative", "axis": null},
  "y": {"field": "j", "type": "quantitative", "axis": null},
  "color": {"datum": "1N4001 Silicon diode leakage current", "type": "nominal"}
 }},
{"data": {"name": "dashK"}, "mark": {"type": "rule", "color": "#000000", "strokeWidth": 1, "strokeDash": [3, 2]},
 "encoding": {"x": {"field": "x1", "type": "quantitative", "axis": null}, "x2": {"field": "x2"}, "y": {"field": "y1", "type": "quantitative", "axis": null}, "y2": {"field": "y2"}}},
{"data": {"name": "dashB"}, "mark": {"type": "rule", "color": "#0000FF", "strokeWidth": 1, "strokeDash": [3, 2]},
 "encoding": {"x": {"field": "x1", "type": "quantitative", "axis": null}, "x2": {"field": "x2"}, "y": {"field": "y1", "type": "quantitative", "axis": null}, "y2": {"field": "y2"}}},
{"data": {"name": "dotB"}, "mark": {"type": "point", "filled": true, "opacity": 1, "size": 120, "color": "#0000FF", "shape": "circle"},
 "encoding": {"x": {"field": "v", "type": "quantitative", "axis": null}, "y": {"field": "j", "type": "quantitative", "axis": null}}},
{"data": {"name": "dotK"}, "mark": {"type": "point", "filled": true, "opacity": 1, "size": 110, "color": "#000000", "shape": "circle"},
 "encoding": {"x": {"field": "v", "type": "quantitative", "axis": null}, "y": {"field": "j", "type": "quantitative", "axis": null}}},
{"data": {"name": "box"}, "mark": {"type": "rect", "fill": "#FFFFFF", "stroke": "#A0A0A0", "strokeWidth": 1.5},
 "encoding": {"x": {"field": "x1", "type": "quantitative", "axis": null}, "x2": {"field": "x2"}, "y": {"field": "y1", "type": "quantitative", "axis": null}, "y2": {"field": "y2"}}},
{"data": {"name": "gen"}, "mark": {"type": "text", "font": "Lato", "fontSize": 46, "color": "#000000", "align": "left", "baseline": "alphabetic"},
 "encoding": {"x": {"field": "v", "type": "quantitative", "axis": null}, "y": {"field": "j", "type": "quantitative", "axis": null}, "text": {"field": "t"}}},
{"data": {"name": "boxBig"}, "mark": {"type": "text", "font": "Lato", "fontSize": 18, "fontWeight": "bold", "color": "#0000FF", "align": "left", "baseline": "alphabetic"},
 "encoding": {"x": {"field": "v", "type": "quantitative", "axis": null}, "y": {"field": "j", "type": "quantitative", "axis": null}, "text": {"field": "t"}}},
{"data": {"name": "boxSmall"}, "mark": {"type": "text", "font": "Lato", "fontSize": 11, "fontWeight": "bold", "color": "#0000FF", "align": "left", "baseline": "alphabetic"},
 "encoding": {"x": {"field": "v", "type": "quantitative", "axis": null}, "y": {"field": "j", "type": "quantitative", "axis": null}, "text": {"field": "t"}}},
{"data": {"name": "blueBig"}, "mark": {"type": "text", "font": "Liberation Sans", "fontSize": 16, "fontWeight": "bold", "color": "#0000FF", "align": "left", "baseline": "alphabetic"},
 "encoding": {"x": {"field": "v", "type": "quantitative", "axis": null}, "y": {"field": "j", "type": "quantitative", "axis": null}, "text": {"field": "t"}}},
{"data": {"name": "blueSmall"}, "mark": {"type": "text", "font": "Liberation Sans", "fontSize": 11, "fontWeight": "bold", "color": "#0000FF", "align": "left", "baseline": "alphabetic"},
 "encoding": {"x": {"field": "v", "type": "quantitative", "axis": null}, "y": {"field": "j", "type": "quantitative", "axis": null}, "text": {"field": "t"}}},
{"data": {"name": "blackBig"}, "mark": {"type": "text", "font": "Liberation Sans", "fontSize": 16, "fontWeight": "bold", "color": "#000000", "align": "left", "baseline": "alphabetic"},
 "encoding": {"x": {"field": "v", "type": "quantitative", "axis": null}, "y": {"field": "j", "type": "quantitative", "axis": null}, "text": {"field": "t"}}},
{"data": {"name": "blackSmall"}, "mark": {"type": "text", "font": "Liberation Sans", "fontSize": 11, "fontWeight": "bold", "color": "#000000", "align": "left", "baseline": "alphabetic"},
 "encoding": {"x": {"field": "v", "type": "quantitative", "axis": null}, "y": {"field": "j", "type": "quantitative", "axis": null}, "text": {"field": "t"}}}
]
}
